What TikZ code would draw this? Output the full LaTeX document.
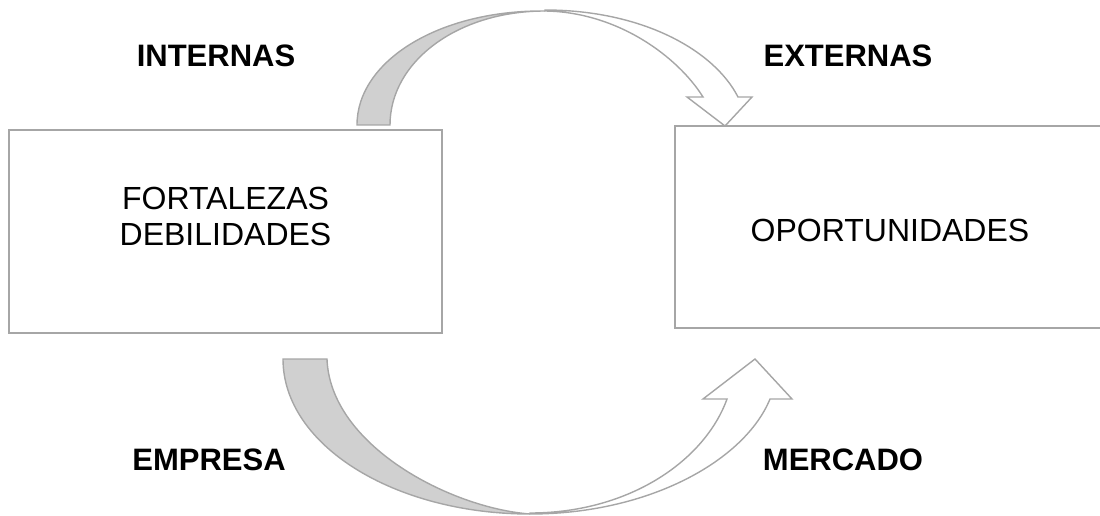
\documentclass[tikz,border=0pt]{standalone}
\usepackage{fontspec}
\setmainfont{Liberation Sans}
\definecolor{linegray}{HTML}{A6A6A6}
\definecolor{backgray}{HTML}{D0D0D0}
\begin{document}
\begin{tikzpicture}[x=1pt,y=-1pt,
  box/.style={draw=linegray, line width=1.6pt, fill=white, inner sep=0pt},
  boxtext/.style={inner sep=0pt, align=center, font=\fontsize{32}{36}\selectfont},
  tag/.style={font=\fontsize{31}{36}\selectfont\bfseries, inner sep=0pt},
  band/.style={draw=linegray, line width=1.4pt, line join=miter},
  back/.style={band, fill=backgray},
  front/.style={band, fill=white}]
\useasboundingbox (0,0) rectangle (1100,516);
\clip (0,0) rectangle (1100,516);

% the two boxes and their contents
\node[box, minimum width=433pt, minimum height=203pt] (interno) at (225.5,231.5) {};
\node[boxtext] (internotxt) at (225.5,216) {FORTALEZAS\\DEBILIDADES};
\node[box, minimum width=430pt, minimum height=202pt] (externo) at (890,227) {};
\node[boxtext] (externotxt) at (890,230) {OPORTUNIDADES};

% side labels
\node[tag] (internas) at (216,55.5) {INTERNAS};
\node[tag] (externas) at (848,55.5) {EXTERNAS};
\node[tag] (empresa)  at (209,459.5) {EMPRESA};
\node[tag] (mercado)  at (843,459.5) {MERCADO};

% upper curved arrow: shaded back face
\draw[back] (357,125) -- (390,125)
  .. controls (390,62) and (457,11) .. (545,11)
  .. controls (439,10) and (357,61) .. cycle;
% upper curved arrow: front face with head
\draw[front] (545,10)
  .. controls (642,10) and (714,50) .. (738,97)
  -- (752,97) -- (725,126) -- (687,97) -- (703,97)
  .. controls (678,57) and (618,12) .. (545,11) -- cycle;

% lower curved arrow: shaded back face
\draw[back] (283,359) -- (327,359)
  .. controls (330,445) and (450,508) .. (530,514)
  .. controls (394,514) and (283,445) .. cycle;
% lower curved arrow: front face with head
\draw[front] (530,514)
  .. controls (650,514) and (745,460) .. (770,399)
  -- (792,399) -- (755,359) -- (703,399) -- (727,399)
  .. controls (705,460) and (630,513) .. (530,513) -- cycle;
\end{tikzpicture}
\end{document}
